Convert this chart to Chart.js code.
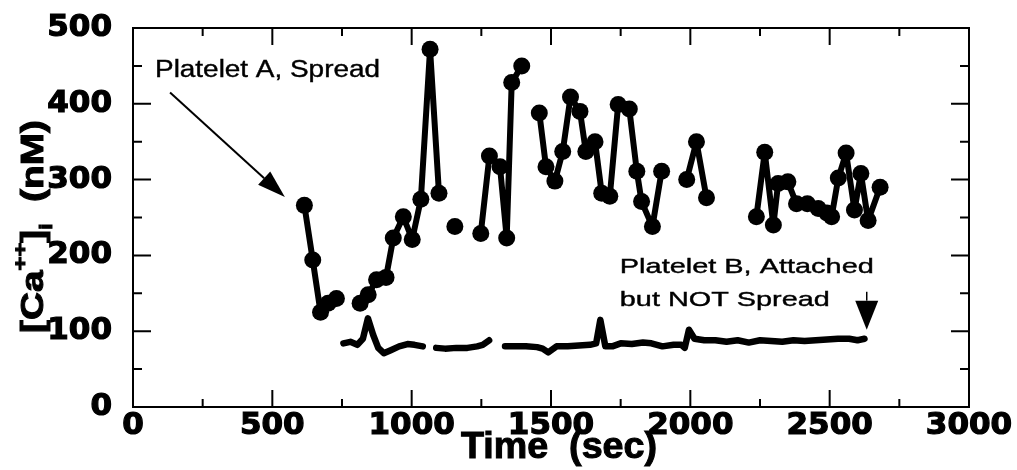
<!DOCTYPE html>
<html>
<head>
<meta charset="utf-8">
<script src="https://cdn.jsdelivr.net/npm/chart.js@4.4.1/dist/chart.umd.min.js"></script>
<style>
  html, body { margin: 0; padding: 0; background: #fff; }
</style>
</head>
<body>
<canvas id="calcium" width="1017" height="470"></canvas>
<script>
// Platelet A (spread): time in sec, [Ca++]i in nM; null breaks the trace
const timeA = [615, 645, 673, 700, 730, 772, 815, 844, 874, 908, 934, 970, 1002, 1033, 1066, 1098, 1125, 1155, 1200,
  1248, 1279, 1317, 1341, 1359, 1395, 1425, 1458, 1482, 1514, 1542, 1570, 1604, 1625, 1658, 1682, 1711,
  1741, 1781, 1808, 1825, 1864, 1897, 1940, 1987, 2022, 2058, 2150, 2237, 2267, 2298, 2315, 2350, 2381,
  2420, 2459, 2490, 2507, 2531, 2559, 2589, 2612, 2638, 2681];
const caA = [266, 194, 125, 137, 143, null, 137, 148, 168, 171, 223, 251, 221, 274, 472, 282, null, 238, null,
  229, 331, 317, 223, 428, 450, null, 388, 317, 298, 337, 409, 390, 337, 350, 282, 278,
  399, 393, 311, 271, 238, 311, null, 300, 350, 276, null, 251, 336, 240, 295, 297, 268,
  268, 262, 256, 251, 302, 335, 260, 308, 246, 290];

// Platelet B (attached but not spread)
const timeB = [755, 780, 805, 825, 843, 862, 880, 900, 925, 955, 985, 1010, 1040, 1060,
  1088, 1120, 1160, 1200, 1235, 1255, 1278, 1305,
  1335, 1370, 1410, 1450, 1470, 1490, 1520, 1560, 1600, 1640,
  1662, 1677, 1695, 1720, 1750, 1790, 1830, 1860, 1900, 1940,
  1968, 1980, 1995, 2015, 2050, 2090, 2130, 2170, 2210, 2250,
  2290, 2330, 2370, 2410, 2450, 2490, 2530, 2570, 2600, 2625];
const caB = [84, 86, 82, 90, 117, 95, 78, 71, 75, 80, 83, 82, 80, null,
  78, 77, 78, 78, 80, 82, 88, null,
  80, 80, 80, 79, 77, 72, 80, 80, 81, 82,
  84, 115, 80, 80, 84, 83, 85, 84, 80, 82,
  82, 78, 102, 90, 88, 88, 86, 88, 85, 88,
  87, 86, 88, 87, 88, 89, 90, 90, 88, 90];

const xTicks = [0, 500, 1000, 1500, 2000, 2500, 3000];
const yTicks = [0, 100, 200, 300, 400, 500];
const xMinor = 250;
const yMinor = 50;

const toPoints = (t, v) => t.map((x, i) => ({ x: x, y: v[i] }));

// draw text squeezed/stretched to a given width
function fitText(ctx, str, x, y, width, font, stroke) {
  ctx.font = font;
  const w = ctx.measureText(str).width;
  ctx.save();
  ctx.translate(x, y);
  ctx.scale(width / w, 1);
  ctx.fillText(str, 0, 0);
  if (stroke) { ctx.lineWidth = stroke; ctx.strokeText(str, 0, 0); }
  ctx.restore();
}

function arrow(ctx, x0, y0, x1, y1, headLen, headHalf) {
  const ang = Math.atan2(y1 - y0, x1 - x0);
  const bx = x1 - headLen * Math.cos(ang), by = y1 - headLen * Math.sin(ang);
  ctx.beginPath();
  ctx.moveTo(x0, y0);
  ctx.lineTo(bx, by);
  ctx.stroke();
  ctx.beginPath();
  ctx.moveTo(x1, y1);
  ctx.lineTo(bx + headHalf * Math.sin(ang), by - headHalf * Math.cos(ang));
  ctx.lineTo(bx - headHalf * Math.sin(ang), by + headHalf * Math.cos(ang));
  ctx.closePath();
  ctx.fill();
}

// box around the plot with inward ticks on all four sides
const frame = {
  id: 'frame',
  beforeDatasetsDraw(chart) {
    const { ctx, chartArea: a, scales: { x, y } } = chart;
    ctx.save();
    ctx.strokeStyle = '#000';
    ctx.lineWidth = 2;
    ctx.strokeRect(a.left, a.top, a.right - a.left, a.bottom - a.top);
    ctx.beginPath();
    for (let v = x.min; v <= x.max; v += xMinor) {
      const px = x.getPixelForValue(v);
      const len = xTicks.includes(v) ? 17 : 8;
      ctx.moveTo(px, a.bottom); ctx.lineTo(px, a.bottom - len);
      ctx.moveTo(px, a.top); ctx.lineTo(px, a.top + len);
    }
    for (let v = y.min; v <= y.max; v += yMinor) {
      const py = y.getPixelForValue(v);
      const len = yTicks.includes(v) ? 18 : 9;
      ctx.moveTo(a.left, py); ctx.lineTo(a.left + len, py);
      ctx.moveTo(a.right, py); ctx.lineTo(a.right - len, py);
    }
    ctx.stroke();
    ctx.restore();
  }
};

// axis titles and the two annotations
const labels = {
  id: 'labels',
  afterDraw(chart) {
    const { ctx, chartArea: a, scales: { x, y } } = chart;
    ctx.save();
    ctx.fillStyle = '#000';
    ctx.strokeStyle = '#000';
    ctx.textBaseline = 'alphabetic';
    ctx.textAlign = 'left';

    // x title
    const xw = 196;
    fitText(ctx, 'Time  (sec)', (a.left + a.right) / 2 - xw / 2 + 8, a.bottom + 51, xw, 'bold 36px "Liberation Sans"', 1);

    // y title, rotated, with super/subscripts
    ctx.save();
    ctx.translate(43, 333);
    ctx.rotate(-Math.PI / 2);
    const parts = [
      { t: '[Ca', f: 'bold 31px "Liberation Sans"', dy: 0 },
      { t: '++', f: 'bold 19px "Liberation Sans"', dy: -17 },
      { t: ']', f: 'bold 31px "Liberation Sans"', dy: 0 },
      { t: 'i', f: 'bold 18px "Liberation Sans"', dy: 9 },
      { t: '  (nM)', f: 'bold 31px "Liberation Sans"', dy: 0 }
    ];
    let total = 0;
    parts.forEach(p => { ctx.font = p.f; p.w = ctx.measureText(p.t).width; total += p.w; });
    ctx.scale(213 / total, 1);
    ctx.lineWidth = 1;
    let pen = 0;
    parts.forEach(p => {
      ctx.font = p.f;
      ctx.fillText(p.t, pen, p.dy);
      ctx.strokeText(p.t, pen, p.dy);
      pen += p.w;
    });
    ctx.restore();

    // Platelet A annotation and arrow
    fitText(ctx, 'Platelet A, Spread', x.getPixelForValue(79), y.getPixelForValue(435), 225, '23px "Liberation Sans"', 0.4);
    ctx.lineWidth = 2;
    arrow(ctx, x.getPixelForValue(133), y.getPixelForValue(415), x.getPixelForValue(545), y.getPixelForValue(277), 28, 9);

    // Platelet B annotation and arrow
    fitText(ctx, 'Platelet B, Attached', x.getPixelForValue(1747), y.getPixelForValue(177), 254, '21px "Liberation Sans"', 0.4);
    fitText(ctx, 'but NOT Spread', x.getPixelForValue(1747), y.getPixelForValue(133), 210, '21px "Liberation Sans"', 0.4);
    ctx.lineWidth = 1.5;
    arrow(ctx, x.getPixelForValue(2633), y.getPixelForValue(152), x.getPixelForValue(2633), y.getPixelForValue(102), 29, 11.5);
    ctx.restore();
  }
};

const tickFont = { family: '"DejaVu Sans"', weight: 'bold', size: 31 };
const plain = v => String(v);

new Chart(document.getElementById('calcium'), {
  type: 'line',
  data: {
    datasets: [
      {
        label: 'Platelet A, Spread',
        data: toPoints(timeA, caA),
        borderColor: '#000',
        backgroundColor: '#000',
        borderWidth: 6,
        borderJoinStyle: 'round',
        pointRadius: 8.5,
        pointHoverRadius: 8.5,
        pointBorderWidth: 0,
        pointBackgroundColor: '#000',
        spanGaps: false,
        tension: 0
      },
      {
        label: 'Platelet B, Attached but NOT Spread',
        data: toPoints(timeB, caB),
        borderColor: '#000',
        borderWidth: 6.5,
        borderJoinStyle: 'round',
        borderCapStyle: 'round',
        pointRadius: 0,
        spanGaps: false,
        tension: 0
      }
    ]
  },
  options: {
    responsive: false,
    animation: false,
    devicePixelRatio: 1,
    layout: { padding: { top: 28, right: 48, bottom: 0, left: 0 } },
    plugins: { legend: { display: false }, tooltip: { enabled: false } },
    scales: {
      x: {
        type: 'linear',
        min: 0,
        max: 3000,
        afterBuildTicks: s => { s.ticks = xTicks.map(v => ({ value: v })); },
        afterFit: s => { s.height = 63; s.paddingLeft = 0; s.paddingRight = 0; },
        grid: { display: false, drawTicks: false },
        border: { display: false },
        ticks: { font: tickFont, color: '#000', padding: 0, maxRotation: 0, autoSkip: false,
          textStrokeColor: '#000', textStrokeWidth: 1.2, callback: plain }
      },
      y: {
        min: 0,
        max: 500,
        afterBuildTicks: s => { s.ticks = yTicks.map(v => ({ value: v })); },
        afterFit: s => { s.width = 133; s.paddingTop = 0; s.paddingBottom = 0; },
        grid: { display: false, drawTicks: false },
        border: { display: false },
        ticks: { font: tickFont, color: '#000', padding: 21, autoSkip: false,
          textStrokeColor: '#000', textStrokeWidth: 1.2, callback: plain }
      }
    }
  },
  plugins: [frame, labels]
});
</script>
</body>
</html>
